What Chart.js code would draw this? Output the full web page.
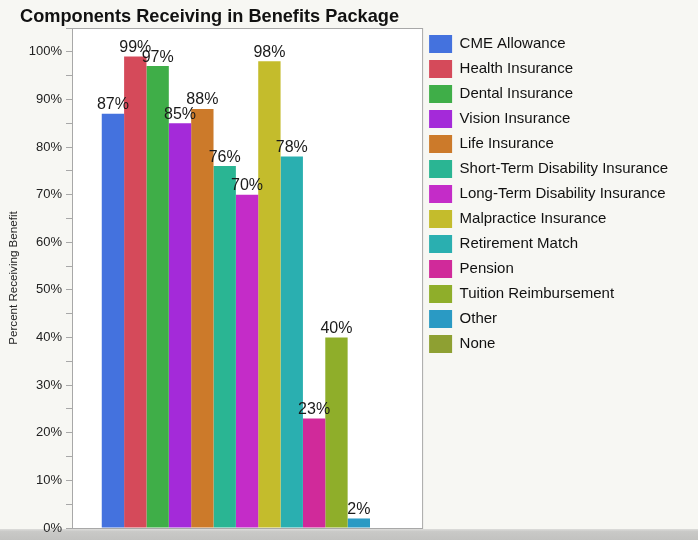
<!DOCTYPE html>
<html>
<head>
<meta charset="utf-8">
<script src="https://cdn.jsdelivr.net/npm/chart.js@4"></script>
<style>
  html, body { margin: 0; padding: 0; background: #f7f7f3; }
  #box { width: 698px; height: 540px; }
</style>
</head>
<body>
<div id="box"><canvas id="benefits_chart" width="698" height="540"></canvas></div>
<script>
var chartTitle = "Components Receiving in Benefits Package";
var yTitle = "Percent Receiving Benefit";

var components = ["CME Allowance", "Health Insurance", "Dental Insurance", "Vision Insurance",
    "Life Insurance", "Short-Term Disability Insurance", "Long-Term Disability Insurance",
    "Malpractice Insurance", "Retirement Match", "Pension", "Tuition Reimbursement", "Other", "None"];
var percents = [87, 99, 97, 85, 88, 76, 70, 98, 78, 23, 40, 2, 0];
var colors = ["#4472de", "#d54a5a", "#3fae48", "#a42ad9", "#cc7a2a", "#2ab593", "#c42cc8",
    "#c4bc2c", "#2aafb0", "#d02a9a", "#8fae2a", "#2a9ac4", "#8ea032"];

var datasets = [];
for (var i = 0; i < components.length; i++) {
    datasets.push({
        label: components[i],
        data: [percents[i]],
        backgroundColor: colors[i],
        borderWidth: 0
    });
}

// background, plot frame, bottom band
var backdrop = {
    id: 'backdrop',
    beforeDraw: function(chart) {
        var ctx = chart.ctx;
        var a = chart.chartArea;
        ctx.save();
        ctx.fillStyle = '#f7f7f3';
        ctx.fillRect(0, 0, chart.width, chart.height);
        ctx.fillStyle = '#ffffff';
        ctx.fillRect(a.left, a.top, a.right - a.left, a.bottom - a.top);
        var g = ctx.createLinearGradient(0, a.bottom, 0, chart.height);
        g.addColorStop(0, '#e4e4e2');
        g.addColorStop(0.3, '#c9c9c7');
        g.addColorStop(1, '#c2c2c0');
        ctx.fillStyle = g;
        ctx.fillRect(0, a.bottom + 1, chart.width, chart.height - a.bottom - 1);
        ctx.restore();
    },
    afterDraw: function(chart) {
        var ctx = chart.ctx;
        var a = chart.chartArea;
        ctx.save();
        ctx.strokeStyle = '#a8a8a8';
        ctx.lineWidth = 1;
        ctx.strokeRect(a.left + 0.5, a.top + 0.5, a.right - a.left, a.bottom - a.top);
        ctx.fillStyle = '#111';
        ctx.font = 'bold 18.2px "Liberation Sans", Arial, sans-serif';
        ctx.textAlign = 'left';
        ctx.textBaseline = 'alphabetic';
        ctx.fillText(chartTitle, 20, 22);
        ctx.restore();
    }
};

// percent labels above each bar
var valueLabels = {
    id: 'valueLabels',
    afterDatasetsDraw: function(chart) {
        var ctx = chart.ctx;
        ctx.save();
        ctx.font = '16px "Liberation Sans", Arial, sans-serif';
        ctx.fillStyle = '#1a1a1a';
        ctx.textAlign = 'center';
        ctx.textBaseline = 'bottom';
        chart.data.datasets.forEach(function(ds, i) {
            var v = ds.data[0];
            if (!v) return;
            var bar = chart.getDatasetMeta(i).data[0];
            ctx.fillText(v + '%', bar.x, bar.y - 1);
        });
        ctx.restore();
    }
};

var chart = new Chart(document.getElementById('benefits_chart'), {
    type: 'bar',
    data: {
        labels: [''],
        datasets: datasets
    },
    options: {
        responsive: false,
        animation: false,
        layout: {
            padding: { top: 28, bottom: 12, left: 0, right: 20 }
        },
        datasets: {
            bar: { categoryPercentage: 0.83, barPercentage: 1.0 }
        },
        plugins: {
            title: { display: false },
            tooltip: { enabled: false },
            legend: {
                position: 'right',
                align: 'start',
                maxWidth: 320,
                labels: {
                    boxWidth: 23,
                    boxHeight: 18,
                    padding: 7,
                    color: '#111',
                    font: { size: 15, family: '"Liberation Sans", Arial, sans-serif' }
                }
            }
        },
        scales: {
            x: { display: false },
            y: {
                min: 0,
                max: 105,
                afterFit: function(scale) { scale.width = 72; },
                ticks: {
                    stepSize: 5,
                    padding: 4,
                    color: '#222',
                    font: { size: 13, family: '"Liberation Sans", Arial, sans-serif' },
                    callback: function(v) { return (v % 10 === 0 && v <= 100) ? v + '%' : ''; }
                },
                grid: {
                    drawOnChartArea: false,
                    drawTicks: true,
                    tickLength: 6,
                    color: '#a8a8a8'
                },
                border: { color: '#a8a8a8' },
                title: {
                    display: true,
                    text: yTitle,
                    color: '#222',
                    font: { size: 11.6, family: '"Liberation Sans", Arial, sans-serif' },
                    padding: { top: 7, bottom: 0 }
                }
            }
        }
    },
    plugins: [backdrop, valueLabels]
});
</script>
</body>
</html>
